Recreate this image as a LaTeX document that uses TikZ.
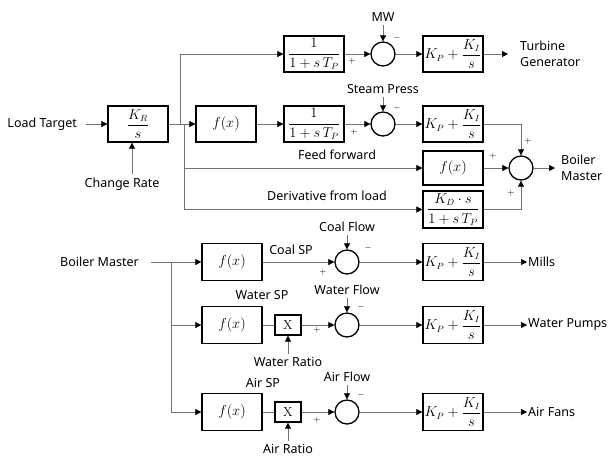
\documentclass[tikz,border=0pt]{standalone}
\usepackage{amsmath}
\usepackage{fontspec}
\setsansfont{Noto Sans}
\usetikzlibrary{arrows.meta}

\begin{document}
\begin{tikzpicture}[
x=1pt,y=-1pt,
font=\sffamily\fontsize{12.5}{16}\selectfont,
blk/.style={draw, line width=1.3pt, minimum width=60pt, minimum height=36pt, inner sep=1pt, font=\fontsize{13.5}{15}\selectfont},
mul/.style={draw, line width=1.3pt, minimum width=26pt, minimum height=20pt, inner sep=0pt, font=\rmfamily\fontsize{13}{15}\selectfont},
sum/.style={circle, draw, line width=1.3pt, minimum size=24pt, inner sep=0pt},
sig/.style={draw=black!55, line width=0.7pt, -{Triangle[length=6pt,width=6pt,color=black]}},
wire/.style={draw=black!55, line width=0.7pt},
sgn/.style={font=\fontsize{9}{10}\selectfont, inner sep=0pt}
]
\useasboundingbox (0,0) rectangle (609,456);
% load demand path
\node[anchor=east, inner xsep=9pt] (lt) at (86,124) {Load Target};
\node[blk] (kr) at (138,124) {$\dfrac{K_R}{s}$};
\node (cr) at (122,184) {Change Rate};
\node[blk] (fx1) at (226,124) {$f(x)$};
\node[blk] (tp1) at (314,54) {$\dfrac{1}{1+s\,T_P}$};
\node[blk] (tp2) at (314,124) {$\dfrac{1}{1+s\,T_P}$};
\node[sum] (s1) at (383,54) {};
\node[sum] (s2) at (383,124) {};
\node (mw) at (383,17) {MW};
\node (sp) at (383,89) {Steam Press};
\node[blk] (pi1) at (453,54) {$K_P+\dfrac{K_I}{s}$};
\node[blk] (pi2) at (453,124) {$K_P+\dfrac{K_I}{s}$};
\node[anchor=west, align=left, inner xsep=12pt] (tg) at (508,54) {Turbine\\Generator};
\node (fflbl) at (337,155) {Feed forward};
\node (dvlbl) at (327,196) {Derivative from load};
\node[blk, minimum height=34pt] (ff) at (453,168) {$f(x)$};
\node[blk, minimum height=37pt] (dv) at (453,209.5) {$\dfrac{K_D\cdot s}{1+s\,T_P}$};
\node[sum] (s3) at (521,168) {};
\node[anchor=west, align=left, inner xsep=6pt] (bm) at (555,168) {Boiler\\Master};
\coordinate (up) at (180,124);
\coordinate (dn) at (184,124);
% signs
\node[sgn] at (352,61) {$+$};
\node[sgn] at (397,38) {$-$};
\node[sgn] at (354,132) {$+$};
\node[sgn] at (397,108) {$-$};
\node[sgn] at (528,141) {$+$};
\node[sgn] at (493,156) {$+$};
\node[sgn] at (511,193) {$+$};
\draw[sig] (lt) -- (kr);
\draw[sig] ([xshift=10pt]cr.north) -- ([xshift=10pt]cr.north |- kr.south);
\draw[sig] (kr) -- (fx1);
\draw[sig] (up) |- (tp1);
\draw[sig] (dn) |- (ff);
\draw[sig] (dn) |- (dv);
\draw[sig] (fx1) -- (tp2);
\draw[sig] (tp1) -- (s1);
\draw[sig] (tp2) -- (s2);
\draw[sig] (mw) -- (s1);
\draw[sig] (sp) -- (s2);
\draw[sig] (s1) -- (pi1);
\draw[sig] (s2) -- (pi2);
\draw[sig] (pi1) -- (tg);
\draw[sig] (pi2) -| (s3);
\draw[sig] (ff) -- (s3);
\draw[sig] (dv) -| (s3);
\draw[sig] (s3) -- (bm);
% boiler master split
\node[anchor=east, inner xsep=12pt] (bm2) at (151,262) {Boiler Master};
\coordinate (br) at (171,262);
\node[blk, minimum height=37pt] (fc) at (232,262) {$f(x)$};
\node[blk, minimum height=37pt] (fw) at (232,325) {$f(x)$};
\node[blk, minimum height=37pt] (fa) at (232,412) {$f(x)$};
\node (csp) at (291,250) {Coal SP};
\node (wsp) at (262,295) {Water SP};
\node (asp) at (263,383) {Air SP};
\node[mul] (xw) at (288,325) {X};
\node[mul] (xa) at (288,412) {X};
\node (wr) at (288,362) {Water Ratio};
\node (ar) at (288,449) {Air Ratio};
\foreach \k/\y/\flw/\out in {c/262/Coal Flow/Mills,w/325/Water Flow/Water Pumps,a/412/Air Flow/Air Fans} {
  \node[sum] (s\k) at (347,\y) {};
  \node (fl\k) at (347,\y-35) {\flw};
  \node[blk, minimum height=37pt] (pi\k) at (453,\y) {$K_P+\dfrac{K_I}{s}$};
  \node[anchor=west, inner xsep=1pt] (o\k) at (527,\y) {\out};
  \draw[sig] (fl\k) -- (s\k);
  \draw[sig] (s\k) -- (pi\k);
  \draw[sig] (pi\k) -- (o\k);
}
\node[sgn] at (368,248) {$-$};
\node[sgn] at (323,272) {$+$};
\node[sgn] at (361,307) {$-$};
\node[sgn] at (317,330) {$+$};
\node[sgn] at (361,395) {$-$};
\node[sgn] at (317,420) {$+$};
\draw[sig] (bm2) -- (fc);
\draw[sig] (br) |- (fw);
\draw[sig] (br) |- (fa);
\draw[sig] (fc) -- (sc);
\draw[wire] (fw) -- (xw);
\draw[wire] (fa) -- (xa);
\draw[sig] (xw) -- (sw);
\draw[sig] (xa) -- (sa);
\draw[sig] (wr) -- (xw);
\draw[sig] (ar) -- (xa);
\end{tikzpicture}
\end{document}
